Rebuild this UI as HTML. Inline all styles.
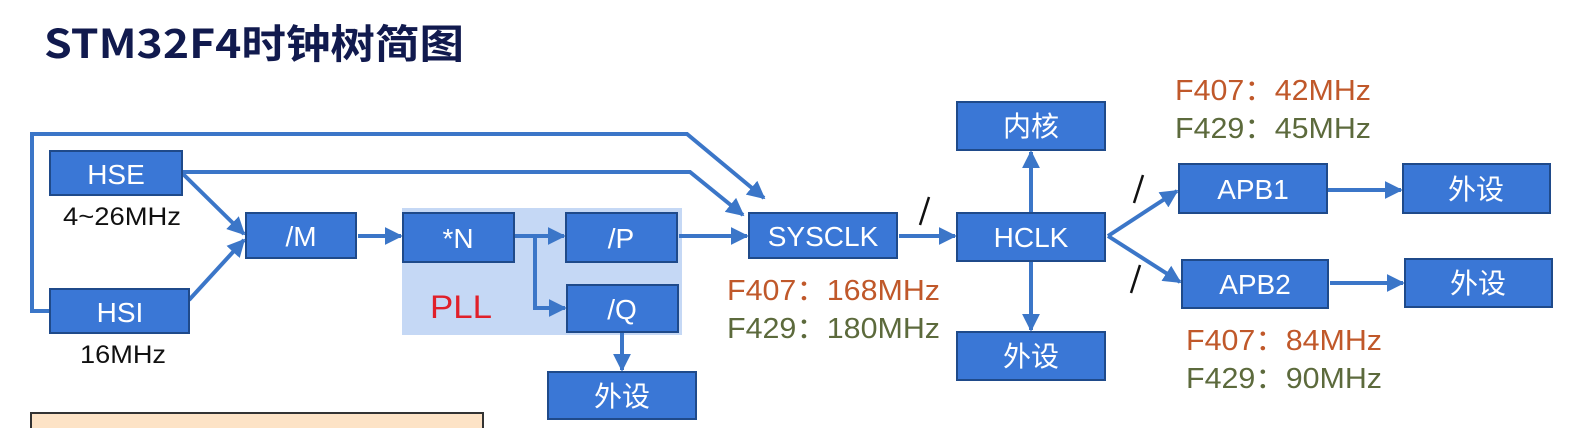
<!DOCTYPE html>
<html><head><meta charset="utf-8"><style>
html,body{margin:0;padding:0;background:#fff;}
svg{display:block}
text{font-family:"Liberation Sans","Noto Sans CJK SC",sans-serif;}
</style></head><body>
<svg width="1596" height="428" viewBox="0 0 1596 428" xmlns="http://www.w3.org/2000/svg">
<defs>
<marker id="a" viewBox="0 0 10 10" refX="9" refY="5" markerWidth="4.5" markerHeight="4.5" orient="auto" markerUnits="strokeWidth"><path d="M0,0 L10,5 L0,10 z" fill="#3b76c8"/></marker>
</defs>
<text x="44" y="58" font-size="40" font-weight="bold" fill="#111a4e" style="font-family:'Noto Sans CJK SC',sans-serif" textLength="420" lengthAdjust="spacingAndGlyphs">STM32F4时钟树简图</text>

<rect x="402" y="208" width="280" height="127" fill="#c5d8f5"/>
<rect x="31" y="413" width="452" height="20" fill="#fde3c6" stroke="#333" stroke-width="2"/>

<g fill="none" stroke="#3b76c8" stroke-width="4">
<path d="M50,311 H32 V134 H687 L764,198" marker-end="url(#a)"/>
<path d="M182,172 H690 L743,215" marker-end="url(#a)"/>
<path d="M182,173 L244,234" marker-end="url(#a)"/>
<path d="M189,300 L244,240" marker-end="url(#a)"/>
<path d="M358,236 H401" marker-end="url(#a)"/>
<path d="M515,236 H564" marker-end="url(#a)"/>
<path d="M535,236 V308 H565" marker-end="url(#a)"/>
<path d="M622,333 V370" marker-end="url(#a)"/>
<path d="M679,236 H747" marker-end="url(#a)"/>
<path d="M899,236 H955" marker-end="url(#a)"/>
<path d="M1031,213 V152" marker-end="url(#a)"/>
<path d="M1031,261 V330" marker-end="url(#a)"/>
<path d="M1108,236 L1177,191" marker-end="url(#a)"/>
<path d="M1108,236 L1180,282" marker-end="url(#a)"/>
<path d="M1328,190 H1401" marker-end="url(#a)"/>
<path d="M1330,283 H1403" marker-end="url(#a)"/>
</g>
<g stroke="#111" stroke-width="2.5">
<line x1="929" y1="197" x2="920" y2="225"/>
<line x1="1143" y1="175" x2="1134" y2="203"/>
<line x1="1140" y1="265" x2="1131" y2="293"/>
</g>

<g fill="#3a77d6" stroke="#1f4a8a" stroke-width="2">
<rect x="50" y="151" width="132" height="44"/>
<rect x="50" y="289" width="139" height="44"/>
<rect x="246" y="213" width="110" height="45"/>
<rect x="403" y="213" width="111" height="49"/>
<rect x="566" y="213" width="111" height="49"/>
<rect x="567" y="285" width="111" height="47"/>
<rect x="548" y="372" width="148" height="47"/>
<rect x="749" y="213" width="148" height="45"/>
<rect x="957" y="102" width="148" height="48"/>
<rect x="957" y="213" width="148" height="48"/>
<rect x="957" y="332" width="148" height="48"/>
<rect x="1179" y="164" width="148" height="49"/>
<rect x="1182" y="260" width="146" height="48"/>
<rect x="1403" y="164" width="147" height="49"/>
<rect x="1405" y="259" width="147" height="48"/>
</g>
<g fill="#fff" font-size="28" text-anchor="middle">
<text x="116" y="184">HSE</text>
<text x="120" y="322">HSI</text>
<text x="301" y="246">/M</text>
<text x="458" y="248">*N</text>
<text x="621" y="248">/P</text>
<text x="622" y="319">/Q</text>
<text x="622" y="406">外设</text>
<text x="823" y="246">SYSCLK</text>
<text x="1031" y="136">内核</text>
<text x="1031" y="247">HCLK</text>
<text x="1031" y="366">外设</text>
<text x="1253" y="199">APB1</text>
<text x="1255" y="294">APB2</text>
<text x="1476" y="199">外设</text>
<text x="1478" y="293">外设</text>
</g>
<text x="63" y="225" font-size="25" fill="#111" textLength="118" lengthAdjust="spacingAndGlyphs">4~26MHz</text>
<text x="80" y="363" font-size="25" fill="#111" textLength="86" lengthAdjust="spacingAndGlyphs">16MHz</text>
<text x="430" y="318" font-size="32" fill="#e0202a" textLength="62" lengthAdjust="spacingAndGlyphs">PLL</text>
<g font-size="29">
<text x="727" y="300" fill="#c0582a" textLength="213" lengthAdjust="spacingAndGlyphs">F407：168MHz</text>
<text x="727" y="338" fill="#5c6a3c" textLength="213" lengthAdjust="spacingAndGlyphs">F429：180MHz</text>
<text x="1175" y="100" fill="#c0582a" textLength="196" lengthAdjust="spacingAndGlyphs">F407：42MHz</text>
<text x="1175" y="138" fill="#5c6a3c" textLength="196" lengthAdjust="spacingAndGlyphs">F429：45MHz</text>
<text x="1186" y="350" fill="#c0582a" textLength="196" lengthAdjust="spacingAndGlyphs">F407：84MHz</text>
<text x="1186" y="388" fill="#5c6a3c" textLength="196" lengthAdjust="spacingAndGlyphs">F429：90MHz</text>
</g>
</svg>
</body></html>
